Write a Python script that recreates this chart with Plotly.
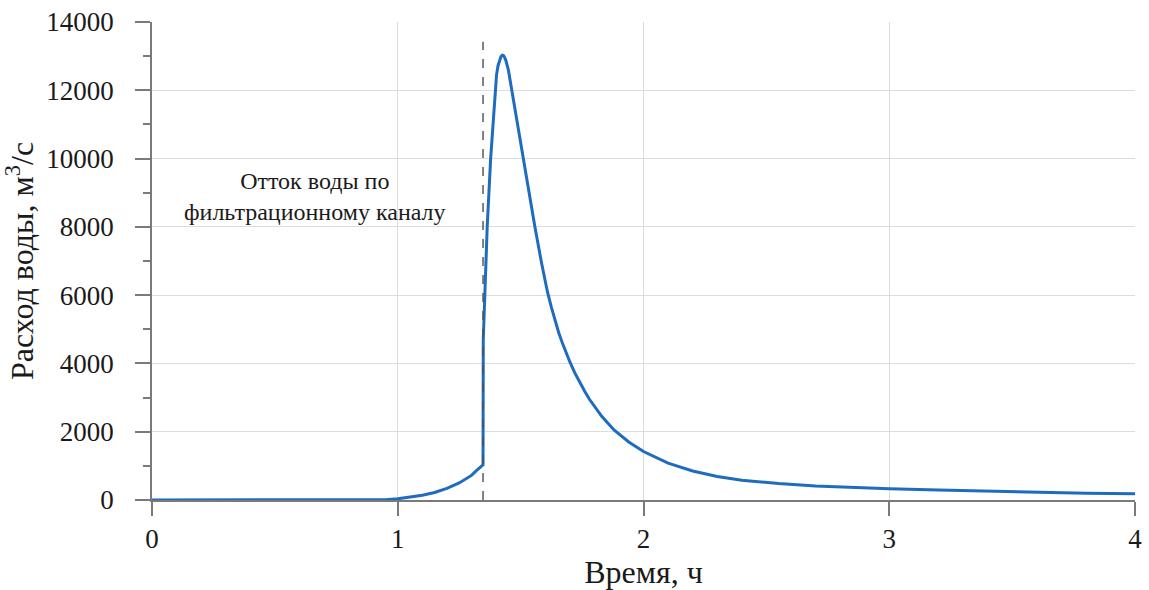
import plotly.graph_objects as go

# Расход воды во времени (ч, м³/с)
time_h = [0.0, 0.2, 0.4, 0.6, 0.8, 0.9, 0.95, 1.0, 1.06, 1.1, 1.15, 1.2, 1.25, 1.3, 1.32, 1.347,
          1.348, 1.355, 1.364, 1.378, 1.396, 1.402, 1.408, 1.414, 1.42, 1.4255, 1.43, 1.435,
          1.44, 1.45, 1.464, 1.49, 1.511, 1.535, 1.558, 1.585, 1.597, 1.609, 1.625, 1.64,
          1.655, 1.67, 1.685, 1.70, 1.72, 1.74, 1.76, 1.78, 1.83, 1.88, 1.94,
          2.0, 2.1, 2.2, 2.3, 2.4, 2.55, 2.7, 2.85, 3.0, 3.2, 3.4, 3.6, 3.8, 4.0]
flow = [0, 0, 0, 0, 2, 5, 10, 35, 90, 140, 220, 340, 500, 720, 860, 1030,
        4700, 6000, 8000, 10000, 12000, 12450, 12720, 12890, 12990, 13030, 13020, 12960,
        12870, 12600, 12000, 10900, 10000, 9000, 8000, 6950, 6500, 6100, 5650, 5250,
        4900, 4600, 4320, 4050, 3730, 3450, 3190, 2950, 2450, 2050, 1700,
        1420, 1080, 850, 690, 580, 480, 410, 360, 330, 290, 255, 225, 200, 180]

x_ticks = [0, 1, 2, 3, 4]
y_ticks = [0, 2000, 4000, 6000, 8000, 10000, 12000, 14000]

# момент начала оттока по фильтрационному каналу
t_break = 1.347
break_top = 13420

font_family = "Liberation Serif, Times New Roman, serif"
text_color = "#1a1a1a"
axis_grey = "#7a7a7a"
grid_grey = "#dcdcdc"

fig = go.Figure()

fig.add_trace(go.Scatter(
    x=time_h, y=flow, mode="lines",
    line=dict(color="#1f6cbf", width=3),
    showlegend=False, hoverinfo="skip",
))

fig.add_shape(type="line", x0=t_break, x1=t_break, y0=0, y1=break_top,
              xref="x", yref="y",
              line=dict(color="#4d4d4d", width=1.4, dash="dash"))

fig.add_annotation(
    x=0.665, y=8900, xref="x", yref="y",
    text="Отток воды по<br>фильтрационному каналу",
    showarrow=False, align="center",
    font=dict(family=font_family, size=24, color=text_color),
)

fig.update_xaxes(
    range=[0, 4], tickvals=x_ticks, ticktext=[str(v) for v in x_ticks],
    showgrid=True, gridcolor=grid_grey, gridwidth=1,
    showline=True, linecolor=axis_grey, linewidth=1.5,
    ticks="outside", ticklen=14, tickcolor=axis_grey, tickwidth=1.5,
    ticklabelstandoff=0, automargin=False,
    zeroline=False,
    tickfont=dict(family=font_family, size=27, color=text_color),
    title=dict(text="Время, ч", font=dict(family=font_family, size=32, color=text_color),
               standoff=8),
)
fig.update_yaxes(
    range=[0, 14000], tickvals=y_ticks, ticktext=[str(v) for v in y_ticks],
    showgrid=True, gridcolor=grid_grey, gridwidth=1,
    showline=True, linecolor=axis_grey, linewidth=1.5,
    ticks="outside", ticklen=15, tickcolor=axis_grey, tickwidth=1.5,
    ticklabelstandoff=16, automargin=False,
    minor=dict(dtick=1000, ticks="outside", ticklen=7, tickcolor=axis_grey,
               tickwidth=1.5, showgrid=False),
    zeroline=False,
    tickfont=dict(family=font_family, size=27, color=text_color),
    title=dict(text="Расход воды, м<sup>3</sup>/с",
               font=dict(family=font_family, size=32, color=text_color), standoff=8),
)

fig.update_layout(
    width=1149, height=590,
    margin=dict(l=152, r=14, t=22, b=90),
    paper_bgcolor="white", plot_bgcolor="white",
)

fig.write_html("out.html")
